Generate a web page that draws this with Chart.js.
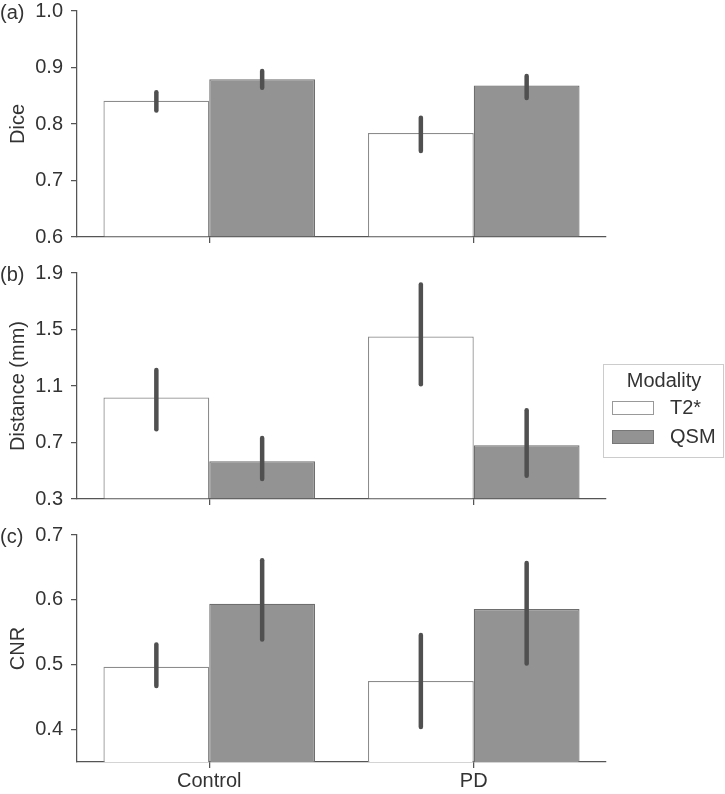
<!DOCTYPE html>
<html>
<head>
<meta charset="utf-8">
<title>Dice / Distance / CNR by modality</title>
<script src="https://cdn.jsdelivr.net/npm/chart.js@4.4.1/dist/chart.umd.min.js"></script>
<style>
  body { margin: 0; background: #fff; }
  #wrap { position: relative; width: 725px; height: 794px; }
  #wrap canvas { position: absolute; left: 0; }
</style>
</head>
<body>
<div id="wrap">
  <canvas id="diceChart" width="725" height="250" style="top:0px"></canvas>
  <canvas id="distChart" width="725" height="262" style="top:250px"></canvas>
  <canvas id="cnrChart" width="725" height="282" style="top:512px"></canvas>
</div>
<script>
// categories and series
const groups = ['Control', 'PD'];
const modalities = ['T2*', 'QSM'];

// (a) Dice
const diceT2 = [0.841, 0.784];
const diceQSM = [0.879, 0.868];
const diceT2Ci = [[0.824, 0.856], [0.752, 0.811]];
const diceQSMCi = [[0.864, 0.894], [0.846, 0.885]];
const diceTicks = [0.6, 0.7, 0.8, 0.9, 1.0];

// (b) Distance (mm)
const distT2 = [1.018, 1.451];
const distQSM = [0.568, 0.681];
const distT2Ci = [[0.794, 1.213], [1.112, 1.818]];
const distQSMCi = [[0.441, 0.731], [0.465, 0.928]];
const distTicks = [0.3, 0.7, 1.1, 1.5, 1.9];

// (c) CNR
const cnrT2 = [0.497, 0.475];
const cnrQSM = [0.594, 0.586];
const cnrT2Ci = [[0.467, 0.531], [0.404, 0.546]];
const cnrQSMCi = [[0.539, 0.661], [0.502, 0.657]];
const cnrTicks = [0.4, 0.5, 0.6, 0.7];
const cnrMin = 0.35;

const TEXT = '#333333';
const AXIS = '#555555';
const T2_FILL = '#ffffff';
const T2_EDGE = '#8c8c8c';
const QSM_FILL = '#939393';
const QSM_EDGE = '#6e6e6e';
const ERR = '#505050';

Chart.defaults.font.family = "'Liberation Sans', Arial, sans-serif";
Chart.defaults.font.size = 20;
Chart.defaults.color = TEXT;

// vertical CI lines on top of each bar
const errorBars = {
  id: 'errorBars',
  afterDatasetsDraw(chart, args, opts) {
    const ctx = chart.ctx;
    const y = chart.scales.y;
    ctx.save();
    ctx.strokeStyle = ERR;
    ctx.lineWidth = 4.5;
    ctx.lineCap = 'round';
    chart.data.datasets.forEach((ds, i) => {
      const meta = chart.getDatasetMeta(i);
      meta.data.forEach((bar, j) => {
        const ci = ds.ci[j];
        ctx.beginPath();
        ctx.moveTo(bar.x, y.getPixelForValue(ci[0]));
        ctx.lineTo(bar.x, y.getPixelForValue(ci[1]));
        ctx.stroke();
      });
    });
    ctx.restore();
  }
};

// "(a)" style panel letter at the top left
const panelLabel = {
  id: 'panelLabel',
  afterDraw(chart, args, opts) {
    const ctx = chart.ctx;
    ctx.save();
    ctx.fillStyle = TEXT;
    ctx.font = "20px 'Liberation Sans', Arial, sans-serif";
    ctx.textAlign = 'left';
    ctx.textBaseline = 'middle';
    ctx.fillText(opts.text, 0, chart.chartArea.top + 2);
    ctx.restore();
  }
};

// legend box with title, right of the middle panel
const modalityLegend = {
  id: 'modalityLegend',
  afterDraw(chart, args, opts) {
    if (!opts.show) return;
    const ctx = chart.ctx;
    const left = chart.chartArea.right - 3;
    const top = opts.top;
    ctx.save();
    ctx.fillStyle = '#ffffff';
    ctx.strokeStyle = '#cccccc';
    ctx.lineWidth = 1;
    ctx.fillRect(left, top, 121, 94);
    ctx.strokeRect(left + 0.5, top + 0.5, 120, 93);

    ctx.fillStyle = TEXT;
    ctx.font = "20px 'Liberation Sans', Arial, sans-serif";
    ctx.textBaseline = 'middle';
    ctx.textAlign = 'center';
    ctx.fillText('Modality', left + 61, top + 17);

    const fills = [T2_FILL, QSM_FILL];
    const edges = ['#999999', '#777777'];
    modalities.forEach((name, i) => {
      const ry = top + 37 + i * 29;
      ctx.fillStyle = fills[i];
      ctx.fillRect(left + 9.5, ry + 0.5, 41, 13);
      ctx.strokeStyle = edges[i];
      ctx.strokeRect(left + 9.5, ry + 0.5, 41, 13);
      ctx.fillStyle = TEXT;
      ctx.textAlign = 'left';
      ctx.fillText(name, left + 67, ry + 7);
    });
    ctx.restore();
  }
};

/**
 * Build one panel of the figure
 */
function makePanel(id, cfg) {
  const ctx = document.getElementById(id).getContext('2d');
  return new Chart(ctx, {
    type: 'bar',
    data: {
      labels: groups,
      datasets: [
        {
          label: modalities[0],
          data: cfg.t2,
          ci: cfg.t2Ci,
          backgroundColor: T2_FILL,
          borderColor: T2_EDGE,
          borderWidth: 1.25,
          base: cfg.min
        },
        {
          label: modalities[1],
          data: cfg.qsm,
          ci: cfg.qsmCi,
          backgroundColor: QSM_FILL,
          borderColor: QSM_EDGE,
          borderWidth: 1.25,
          base: cfg.min
        }
      ]
    },
    options: {
      responsive: false,
      animation: false,
      categoryPercentage: 0.8,
      barPercentage: 1.0,
      layout: { padding: { top: cfg.padTop, right: 119, left: 0, bottom: 0 } },
      plugins: {
        legend: { display: false },
        tooltip: { enabled: false },
        panelLabel: { text: cfg.letter },
        modalityLegend: { show: !!cfg.legend, top: cfg.legendTop }
      },
      scales: {
        x: {
          offset: true,
          grid: { offset: false, drawOnChartArea: false, drawTicks: true, tickLength: 6, color: AXIS, lineWidth: 1.25 },
          border: { display: true, color: AXIS, width: 1.25 },
          ticks: { display: cfg.showX, padding: 1, color: TEXT },
          afterFit: (scale) => {
            scale.height = cfg.xHeight;
            scale.paddingLeft = 0;
            scale.paddingRight = 0;
          }
        },
        y: {
          min: cfg.min,
          max: cfg.max,
          title: { display: true, text: cfg.title, color: TEXT, padding: { top: 6, bottom: 0 } },
          grid: { drawOnChartArea: false, drawTicks: true, tickLength: 6, color: AXIS, lineWidth: 1.25 },
          border: { display: true, color: AXIS, width: 1.25 },
          ticks: {
            padding: 8,
            color: TEXT,
            callback: (v) => Number(v).toFixed(1)
          },
          afterBuildTicks: (scale) => { scale.ticks = cfg.ticks.map(v => ({ value: v })); },
          afterFit: (scale) => {
            scale.width = 77;
            scale.paddingTop = 0;
            scale.paddingBottom = 0;
          }
        }
      }
    },
    plugins: [errorBars, panelLabel, modalityLegend]
  });
}

makePanel('diceChart', {
  letter: '(a)', title: 'Dice',
  t2: diceT2, qsm: diceQSM, t2Ci: diceT2Ci, qsmCi: diceQSMCi,
  ticks: diceTicks, min: diceTicks[0], max: diceTicks[diceTicks.length - 1],
  padTop: 11, xHeight: 13, showX: false
});

makePanel('distChart', {
  letter: '(b)', title: 'Distance (mm)',
  t2: distT2, qsm: distQSM, t2Ci: distT2Ci, qsmCi: distQSMCi,
  ticks: distTicks, min: distTicks[0], max: distTicks[distTicks.length - 1],
  padTop: 23, xHeight: 13, showX: false,
  legend: true, legendTop: 114
});

makePanel('cnrChart', {
  letter: '(c)', title: 'CNR',
  t2: cnrT2, qsm: cnrQSM, t2Ci: cnrT2Ci, qsmCi: cnrQSMCi,
  ticks: cnrTicks, min: cnrMin, max: cnrTicks[cnrTicks.length - 1],
  padTop: 23, xHeight: 32, showX: true
});
</script>
</body>
</html>
